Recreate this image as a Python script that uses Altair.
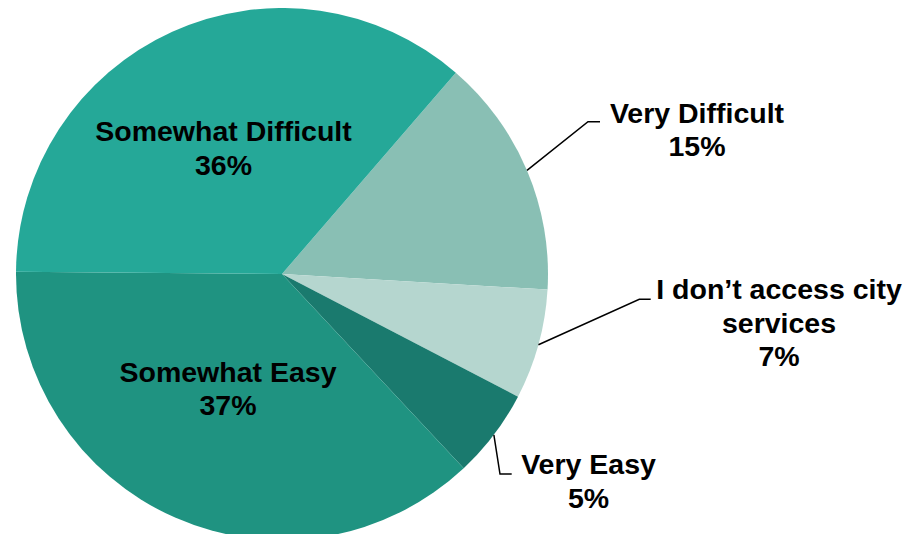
import math
import altair as alt
import pandas as pd

# ---- data ----
categories = ["Very Difficult", "I don’t access city services", "Very Easy",
              "Somewhat Easy", "Somewhat Difficult"]
values = [14.6, 6.7, 5.4, 37.1, 36.2]
pct_labels = ["15%", "7%", "5%", "37%", "36%"]
name_lines = [["Very Difficult"], ["I don’t access city", "services"], ["Very Easy"],
              ["Somewhat Easy"], ["Somewhat Difficult"]]
colors = ["#89BFB4", "#B5D6CF", "#1A7A6E", "#1F9381", "#25A898"]

# ---- layout (chart pixel space) ----
W, H = 896, 526
CX, CY, R = 274, 266, 266
START_DEG = 40.8
FONT_SIZE = 28.5
LINE_PITCH = 33.5
# first-line anchor of each label (centre x, baseline y)
label_anchor = [(689, 114.5), (771, 291), (580.5, 466), (220, 373.5), (215.5, 133)]
# leader lines: elbow and end points (None = label inside slice)
leader_elbow = [(580, 113.7), (631.3, 291.3), (492, 466), None, None]
leader_end = [(592, 113.7), (642.7, 291.3), (503.7, 466), None, None]

off = math.radians(START_DEG)
total = sum(values)

pie_df = pd.DataFrame({"category": categories, "value": values,
                       "idx": list(range(len(categories)))})

# text rows
trows = []
for i, cat in enumerate(categories):
    lines = name_lines[i] + [pct_labels[i]]
    ax, ay = label_anchor[i]
    for k, t in enumerate(lines):
        trows.append({"category": cat, "text": t, "x": ax, "y": ay + k * LINE_PITCH})
text_df = pd.DataFrame(trows)

# leader rows: start on the rim at the slice mid-angle
lrows = []
cum = 0.0
for i, cat in enumerate(categories):
    mid = off + 2 * math.pi * (cum + values[i] / 2) / total
    cum += values[i]
    if leader_elbow[i] is None:
        continue
    sx, sy = CX + R * math.sin(mid), CY - R * math.cos(mid)
    pts = [(sx, sy), leader_elbow[i], leader_end[i]]
    for k, (px, py) in enumerate(pts):
        lrows.append({"category": cat, "k": k, "x": px, "y": py})
line_df = pd.DataFrame(lrows)

xs = alt.Scale(domain=[0, W], range=[0, W])
ys = alt.Scale(domain=[0, H], range=[0, H])

arcs = alt.Chart(pie_df).mark_arc(outerRadius=R).encode(
    theta=alt.Theta("value:Q", stack=True,
                    scale=alt.Scale(domain=[0, total], range=[off, off + 2 * math.pi])),
    color=alt.Color("category:N", scale=alt.Scale(domain=categories, range=colors),
                    legend=None),
    order=alt.Order("idx:Q"),
    x=alt.value(CX),
    y=alt.value(CY),
)

leaders = alt.Chart(line_df).mark_line(color="black", strokeWidth=1.5).encode(
    x=alt.X("x:Q", scale=xs, axis=None),
    y=alt.Y("y:Q", scale=ys, axis=None),
    detail="category:N",
    order="k:Q",
)

texts = alt.Chart(text_df).mark_text(
    align="center", baseline="alphabetic", font="Liberation Sans",
    fontWeight="bold", fontSize=FONT_SIZE, color="black",
).encode(
    x=alt.X("x:Q", scale=xs, axis=None),
    y=alt.Y("y:Q", scale=ys, axis=None),
    text="text:N",
)

chart = alt.layer(arcs, leaders, texts).properties(
    width=W, height=H, autosize="none", padding=0
).configure_view(stroke=None)

chart.save("out.html", embed_options={"renderer": "svg", "actions": False})
